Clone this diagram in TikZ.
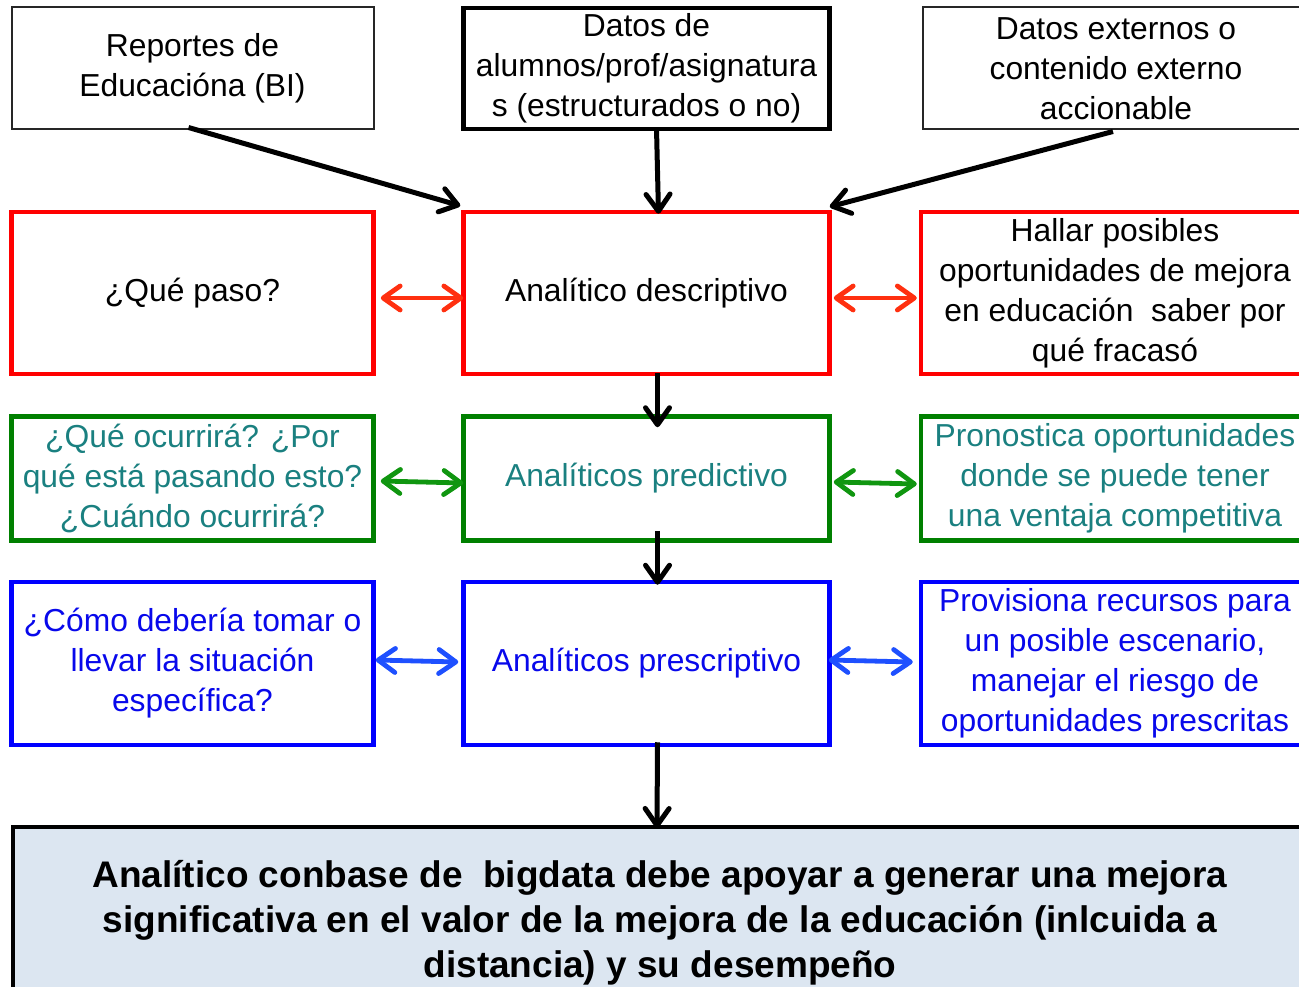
\documentclass[tikz,border=0pt]{standalone}
\usepackage{fontspec}
\setmainfont{Liberation Sans}
\usetikzlibrary{arrows.meta}
\definecolor{redbox}{RGB}{255,0,0}
\definecolor{redarr}{RGB}{255,48,16}
\definecolor{greenbox}{RGB}{0,128,0}
\definecolor{greenarr}{RGB}{16,150,16}
\definecolor{tealtxt}{RGB}{26,128,128}
\definecolor{bluebox}{RGB}{0,0,255}
\definecolor{bluetxt}{RGB}{8,8,235}
\definecolor{bluearr}{RGB}{30,80,255}
\definecolor{lightfill}{RGB}{220,230,241}
\begin{document}
\begin{tikzpicture}[x=1pt,y=-1pt,
  box/.style={rectangle,draw,align=center,inner sep=0pt,font=\fontsize{31.8}{40}\selectfont},
  thinbox/.style={box,draw=black!85,line width=2pt},
  thickbox/.style={box,draw=black,line width=4.5pt},
  redb/.style={box,draw=redbox,line width=4.5pt,text=black},
  greenb/.style={box,draw=greenbox,line width=4.5pt,text=tealtxt},
  blueb/.style={box,draw=bluebox,line width=4.5pt,text=bluetxt},
  tip/.tip={Straight Barb[length=17pt,width=24pt,round]},
  blackarr/.style={draw=black,line width=5pt,-tip},
  bidir/.style={line width=4.8pt,tip-tip},
]
\useasboundingbox (0,0) rectangle (1299,987);
\clip (0,0) rectangle (1299,987);

% top row
\node[thinbox,minimum width=362pt,minimum height=122pt] (A) at (192.5,68.5) {Reportes de\\Educacióna (BI)};
\node[thickbox,minimum width=366pt,minimum height=121pt] (B) at (646.5,68.5) {Datos de\\alumnos/prof/asignatura\\s (estructurados o no)};
\node[thinbox,minimum width=386pt,minimum height=122pt] (C) at (1116,68.5) {Datos externos o\\contenido externo\\accionable};

% red row
\node[redb,minimum width=362pt,minimum height=162pt] (rl) at (192.5,293) {¿Qué paso?};
\node[redb,minimum width=366pt,minimum height=162pt] (rm) at (646.5,293) {Analítico descriptivo};
\node[redb,minimum width=388pt,minimum height=162pt] (rr) at (1115,293) {Hallar posibles\\oportunidades de mejora\\en educación\ \ saber por\\qué fracasó};

% green row
\node[greenb,minimum width=362pt,minimum height=124pt] (gl) at (192.5,478.5) {¿Qué ocurrirá? ¿Por\\qué está pasando esto?\\¿Cuándo ocurrirá?};
\node[greenb,minimum width=366pt,minimum height=124pt] (gm) at (646.5,478.5) {Analíticos predictivo};
\node[greenb,minimum width=388pt,minimum height=124pt] (gr) at (1115,478.5) {Pronostica oportunidades\\donde se puede tener\\una ventaja competitiva};

% blue row
\node[blueb,minimum width=362pt,minimum height=163pt] (bl) at (192.5,663.5) {¿Cómo debería tomar o\\llevar la situación\\específica?};
\node[blueb,minimum width=366pt,minimum height=163pt] (bm) at (646.5,663.5) {Analíticos prescriptivo};
\node[blueb,minimum width=388pt,minimum height=163pt] (br) at (1115,663.5) {Provisiona recursos para\\un posible escenario,\\manejar el riesgo de\\oportunidades prescritas};

% bottom
\node[box,draw=black,line width=4pt,fill=lightfill,minimum width=1294pt,minimum height=192pt,
  font=\bfseries\fontsize{37}{45}\selectfont] (Z) at (660,923) {Analítico conbase de\ \ bigdata debe apoyar a generar una mejora\\significativa en el valor de la mejora de la educación (inlcuida a\\distancia) y su desempeño};

% black arrows
\draw[blackarr] ([xshift=-4pt,yshift=3pt]A.south) -- ([xshift=-1pt,yshift=4pt]rm.north west);
\draw[blackarr] ([xshift=10pt,yshift=3pt]B.south) -- ([xshift=12pt,yshift=-4pt]rm.north);
\draw[blackarr] ([xshift=-3pt,yshift=-1pt]C.south) -- ([xshift=-2pt,yshift=3pt]rm.north east);
\draw[blackarr] ([xshift=11pt,yshift=3pt]rm.south) -- ([xshift=11pt,yshift=-13pt]gm.north);
\draw[blackarr] ([xshift=11pt,yshift=12pt]gm.south) -- ([xshift=11pt,yshift=-5pt]bm.north);
\draw[blackarr] ([xshift=11pt,yshift=5pt]bm.south) -- ([xshift=-3pt,yshift=-3pt]Z.north);

% bidirectional arrows
\draw[bidir,redarr] ([xshift=5pt,yshift=-5pt]rl.east) -- ([xshift=2pt,yshift=-5pt]rm.west);
\draw[bidir,redarr] ([xshift=2pt,yshift=-5pt]rm.east) -- ([xshift=-2pt,yshift=-5pt]rr.west);
\draw[bidir,greenarr] ([xshift=5pt,yshift=-2.5pt]gl.east) -- ([xshift=2pt,yshift=-4.5pt]gm.west);
\draw[bidir,greenarr] ([xshift=2pt,yshift=-3.5pt]gm.east) -- ([xshift=-2pt,yshift=-5.5pt]gr.west);
\draw[bidir,bluearr] ([xshift=0pt,yshift=3.5pt]bl.east) -- ([xshift=-3pt,yshift=1.5pt]bm.west);
\draw[bidir,bluearr] ([xshift=-3pt,yshift=3.5pt]bm.east) -- ([xshift=-6pt,yshift=1.5pt]br.west);
\end{tikzpicture}
\end{document}
